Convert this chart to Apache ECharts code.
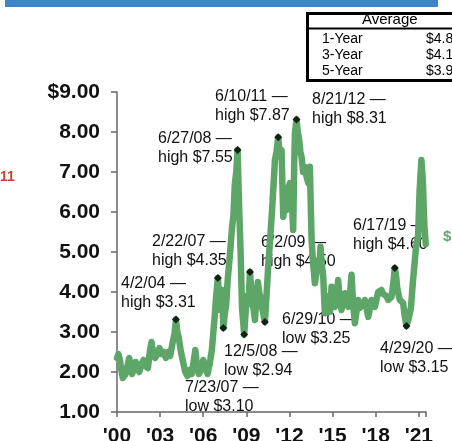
<!DOCTYPE html>
<html><head><meta charset="utf-8">
<script src="https://cdn.jsdelivr.net/npm/echarts@6/dist/echarts.min.js"></script>
<style>html,body{margin:0;padding:0;background:#fff}#c{width:452px;height:441px}</style>
</head><body><div id="c"></div>
<script>
// ---- data ----
const years = [2000.00,2000.10,2000.20,2000.30,2000.40,2000.50,2000.60,2000.70,2000.85,2000.95,2001.05,2001.15,2001.30,2001.40,2001.55,2001.70,2001.85,2002.00,2002.15,2002.30,2002.40,2002.50,2002.65,2002.80,2002.95,2003.10,2003.25,2003.40,2003.55,2003.70,2003.85,2004.00,2004.10,2004.20,2004.30,2004.45,2004.60,2004.75,2004.90,2005.05,2005.20,2005.35,2005.45,2005.55,2005.70,2005.85,2006.00,2006.15,2006.30,2006.45,2006.60,2006.70,2006.80,2006.90,2007.02,2007.10,2007.20,2007.30,2007.40,2007.50,2007.60,2007.70,2007.85,2008.00,2008.10,2008.20,2008.30,2008.39,2008.50,2008.60,2008.70,2008.85,2008.95,2009.05,2009.15,2009.25,2009.35,2009.45,2009.60,2009.70,2009.80,2009.90,2010.00,2010.10,2010.29,2010.45,2010.52,2010.65,2010.76,2010.88,2010.99,2011.10,2011.22,2011.33,2011.45,2011.52,2011.57,2011.68,2011.80,2011.92,2012.03,2012.15,2012.26,2012.33,2012.38,2012.49,2012.58,2012.68,2012.76,2012.84,2012.95,2013.07,2013.18,2013.31,2013.42,2013.48,2013.54,2013.65,2013.77,2013.88,2014.00,2014.08,2014.16,2014.25,2014.35,2014.46,2014.58,2014.70,2014.82,2014.93,2015.05,2015.16,2015.28,2015.39,2015.50,2015.62,2015.74,2015.86,2015.97,2016.09,2016.20,2016.32,2016.43,2016.55,2016.66,2016.78,2016.90,2017.01,2017.13,2017.25,2017.36,2017.48,2017.60,2017.71,2017.83,2017.94,2018.05,2018.17,2018.28,2018.40,2018.52,2018.64,2018.75,2018.87,2018.98,2019.10,2019.22,2019.33,2019.42,2019.49,2019.58,2019.68,2019.80,2019.91,2020.02,2020.14,2020.30,2020.45,2020.60,2020.80,2020.95,2021.05,2021.18,2021.28,2021.38,2021.48];
const prices = [2.35,2.45,2.30,2.05,1.85,1.80,1.95,2.10,2.35,2.15,1.95,2.05,2.25,2.10,2.00,2.20,2.30,2.15,2.10,2.55,2.75,2.50,2.35,2.45,2.60,2.45,2.50,2.35,2.50,2.40,2.70,2.95,3.31,3.00,2.85,2.50,2.25,2.00,1.90,2.05,1.95,2.30,2.55,2.20,1.95,2.05,2.30,2.10,1.95,2.20,2.55,2.50,3.40,3.90,4.35,3.90,3.55,4.05,3.10,3.45,3.70,4.30,4.90,5.60,5.90,6.70,7.00,7.55,6.10,5.00,3.60,2.94,3.50,3.90,3.70,4.50,4.00,3.70,3.30,3.90,4.25,4.00,3.80,3.60,3.25,4.20,4.63,5.30,5.88,6.60,7.30,7.50,7.87,7.40,7.55,6.50,5.88,6.30,6.05,6.60,6.72,6.40,5.55,7.20,7.97,8.31,8.00,7.80,7.50,7.38,7.00,7.13,6.90,6.72,7.13,6.20,5.30,4.70,4.22,4.50,4.80,4.60,5.13,4.70,4.38,3.47,3.90,3.80,3.50,4.13,3.70,3.63,3.90,4.30,3.80,3.55,3.80,3.97,3.70,3.63,3.90,4.43,3.70,3.22,3.50,3.80,3.60,3.55,3.70,3.80,3.60,3.38,3.60,3.80,3.70,3.63,3.80,4.00,3.95,4.05,3.95,4.00,3.90,3.80,3.85,3.88,4.20,4.60,4.40,4.13,3.95,3.80,3.85,3.72,3.40,3.15,3.35,3.60,4.30,5.10,5.40,6.50,7.30,6.80,5.70,5.20];
const markerYears = [2004.10,2007.02,2007.40,2008.39,2008.85,2009.25,2010.29,2011.22,2012.49,2019.33,2020.14];
const markerValues = [3.31,4.35,3.10,7.55,2.94,4.50,3.25,7.87,8.31,4.60,3.15];
const annoDates = ['4/2/04 —','2/22/07 —','7/23/07 —','6/27/08 —','12/5/08 —','6/2/09 —','6/29/10 —','6/10/11 —','8/21/12 —','6/17/19 —','4/29/20 —'];
const annoValues = ['high $3.31','high $4.35','low $3.10','high $7.55','low $2.94','high $4.50','low $3.25','high $7.87','high $8.31','high $4.60','low $3.15'];
const tableTitle = 'Average';
const tableLabels = ['1-Year','3-Year','5-Year'];
const tableValues = ['$4.8','$4.1','$3.9'];
const xTicks = [2000,2003,2006,2009,2012,2015,2018,2021];

// ---- layout (positions only) ----
const annoPos = [[121,284],[152,242],[185,388],[158,139],[224,352],[261,243],[282,320],[215,97],[312,100],[353,226],[380,349]];
const FONT = '"Liberation Sans", Arial, sans-serif';

const graphics = [];
graphics.push({type:'rect', shape:{x:5,y:0,width:433,height:7}, style:{fill:'#3d85c6'}, z:0});
// table
graphics.push({type:'rect', shape:{x:307.5,y:13.5,width:150,height:67}, style:{fill:'#fff',stroke:'#000',lineWidth:3}, z:0});
graphics.push({type:'line', shape:{x1:307,y1:28.5,x2:452,y2:28.5}, style:{stroke:'#000',lineWidth:2}, z:0});
graphics.push({type:'text', x:362, y:20, style:{text:tableTitle, font:'15px '+FONT, fill:'#000', verticalAlign:'middle'}, z:1});
const rowY = [39,55,71];
tableLabels.forEach((t,i)=>{
  graphics.push({type:'text', x:322, y:rowY[i], style:{text:t, font:'14px '+FONT, fill:'#000', verticalAlign:'middle'}, z:1});
  graphics.push({type:'text', x:426, y:rowY[i], style:{text:tableValues[i], font:'14px '+FONT, fill:'#000', verticalAlign:'middle'}, z:1});
});
graphics.push({type:'text', x:0, y:177, style:{text:'11', font:'bold 14px '+FONT, fill:'#c8423a', verticalAlign:'middle'}, z:1});
graphics.push({type:'text', x:443, y:237, style:{text:'$', font:'bold 15px '+FONT, fill:'#5fa869', verticalAlign:'middle'}, z:1});
annoDates.forEach((d,i)=>{
  const p = annoPos[i];
  graphics.push({type:'text', x:p[0], y:p[1], style:{text:d, font:'16px '+FONT, fill:'#111', verticalAlign:'middle'}, z:0});
  graphics.push({type:'text', x:p[0], y:p[1]+19, style:{text:annoValues[i], font:'16px '+FONT, fill:'#111', verticalAlign:'middle'}, z:0});
});

const chart = echarts.init(document.getElementById('c'), null, {renderer:'canvas'});
chart.setOption({
  animation:false,
  grid:{left:117, top:92, width:309, height:320, containLabel:false, outerBoundsMode:'none'},
  xAxis:{type:'value', min:2000, max:2021.5, interval:3,
    axisLine:{lineStyle:{color:'#666', width:1.5}},
    axisTick:{show:true, length:5, lineStyle:{color:'#666', width:1.5}},
    axisLabel:{margin:14, fontSize:21, fontWeight:'bold', color:'#111', fontFamily:FONT,
      formatter:v=> xTicks.indexOf(v)>=0 ? "'"+String(v).slice(2) : ''},
    splitLine:{show:false}},
  yAxis:{type:'value', min:1, max:9, interval:1,
    axisLine:{show:true, lineStyle:{color:'#666', width:1.5}},
    axisTick:{show:true, length:6, lineStyle:{color:'#666', width:1.5}},
    axisLabel:{margin:17, fontSize:21, fontWeight:'bold', color:'#111', fontFamily:FONT,
      formatter:v=> v===9 ? '$9.00' : v.toFixed(2)},
    splitLine:{show:false}},
  graphic: graphics,
  series:[
    {type:'line', z:5, showSymbol:false, data: years.map((y,i)=>[y,prices[i]]),
     lineStyle:{color:'#5ea667', width:6.5, join:'round', cap:'round'}},
    {type:'scatter', z:6, symbol:'diamond', symbolSize:8, data: markerYears.map((y,i)=>[y,markerValues[i]]),
     itemStyle:{color:'#000'}}
  ]
});
</script></body></html>
